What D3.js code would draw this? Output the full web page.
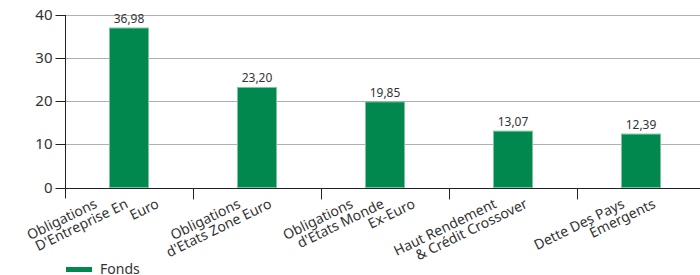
<!DOCTYPE html>
<html>
<head>
<meta charset="utf-8">
<script src="https://cdn.jsdelivr.net/npm/d3@7"></script>
<style>
  body { margin: 0; background: #fff; }
  svg { display: block; font-family: "Noto Sans", sans-serif; }
</style>
</head>
<body>
<svg id="chart" width="700" height="275"></svg>
<script>
// chart data
const categories = [
  ["Obligations", "D'Entreprise En", "Euro"],
  ["Obligations", "d'Etats Zone Euro"],
  ["Obligations", "d'Etats Monde", "Ex-Euro"],
  ["Haut Rendement", "& Crédit Crossover"],
  ["Dette Des Pays", "Émergents"]
];
const values = [36.98, 23.20, 19.85, 13.07, 12.39];
const yTicks = [0, 10, 20, 30, 40];
const seriesName = "Fonds";

const svg = d3.select("#chart");
const margin = { top: 15, right: -5, bottom: 87.5, left: 65 };
const width = 700 - margin.left - margin.right;
const height = 275 - margin.top - margin.bottom;

const x = d3.scaleBand()
  .domain(d3.range(categories.length))
  .range([margin.left, margin.left + width])
  .padding(0);

const y = d3.scaleLinear()
  .domain([0, 40])
  .range([margin.top + height, margin.top]);

const barW = x.step() * 0.3125;
const green = "#00884f";

// gridlines
svg.append("g")
  .selectAll("line")
  .data(yTicks.filter(d => d > 0))
  .enter()
  .append("line")
  .attr("x1", margin.left)
  .attr("x2", margin.left + width)
  .attr("y1", d => Math.round(y(d)) + 0.5)
  .attr("y2", d => Math.round(y(d)) + 0.5)
  .attr("stroke", "#b0b0b0");

// y axis
const yAxis = svg.append("g")
  .attr("transform", `translate(${margin.left + 0.5}, 0)`)
  .call(d3.axisLeft(y).tickValues(yTicks).tickSize(10).tickPadding(3).tickFormat(d3.format("d")));
yAxis.select(".domain").remove();
yAxis.selectAll(".tick line").attr("stroke", "#222");
yAxis.selectAll("text").attr("font-size", 15).attr("fill", "#333").attr("font-family", "Noto Sans");
yAxis.selectAll(".tick").attr("transform", d => `translate(0, ${Math.round(y(d)) + 0.5})`);
svg.append("line")
  .attr("x1", margin.left + 0.5).attr("x2", margin.left + 0.5)
  .attr("y1", margin.top).attr("y2", margin.top + height + 11)
  .attr("stroke", "#222");

// bars
svg.selectAll(".bar")
  .data(values)
  .enter()
  .append("rect")
  .attr("class", "bar")
  .attr("x", (d, i) => x(i) + x.step() / 2 - barW / 2 + 0.5)
  .attr("y", d => y(d))
  .attr("width", barW - 1)
  .attr("height", d => y(0) - y(d))
  .attr("fill", green)
  .attr("stroke", "#7cc49e")
  .attr("stroke-width", 1);

// x axis line and ticks
const zeroY = Math.round(y(0)) + 0.5;
svg.append("line")
  .attr("x1", margin.left).attr("x2", margin.left + width)
  .attr("y1", zeroY).attr("y2", zeroY)
  .attr("stroke", "#222");
svg.append("g")
  .selectAll("line")
  .data(d3.range(1, categories.length))
  .enter()
  .append("line")
  .attr("x1", i => x(i) + 0.5).attr("x2", i => x(i) + 0.5)
  .attr("y1", zeroY).attr("y2", zeroY + 11)
  .attr("stroke", "#222");

// value labels
svg.selectAll(".val")
  .data(values)
  .enter()
  .append("text")
  .attr("class", "val")
  .attr("x", (d, i) => x(i) + x.step() / 2)
  .attr("y", d => y(d) - 5)
  .attr("text-anchor", "middle")
  .attr("font-size", 12)
  .attr("fill", "#333")
  .text(d => d3.format(".2f")(d).replace(".", ","));

// category labels, one rotated line each
const labelY = 207;
categories.forEach((lines, i) => {
  const cx = x(i) + x.step() / 2;
  lines.forEach((line, j) => {
    const lx = cx + (j - (lines.length - 1) / 2) * 31;
    svg.append("text")
      .attr("x", lx)
      .attr("y", labelY)
      .attr("transform", `rotate(-26, ${lx}, ${labelY})`)
      .attr("text-anchor", "end")
      .attr("font-size", 14)
      .attr("fill", "#333")
      .text(line);
  });
});

// legend
svg.append("rect")
  .attr("x", 66).attr("y", 267)
  .attr("width", 26).attr("height", 5)
  .attr("fill", green);
svg.append("text")
  .attr("x", 100).attr("y", 274)
  .attr("font-size", 14)
  .attr("fill", "#333")
  .text(seriesName);
</script>
</body>
</html>
